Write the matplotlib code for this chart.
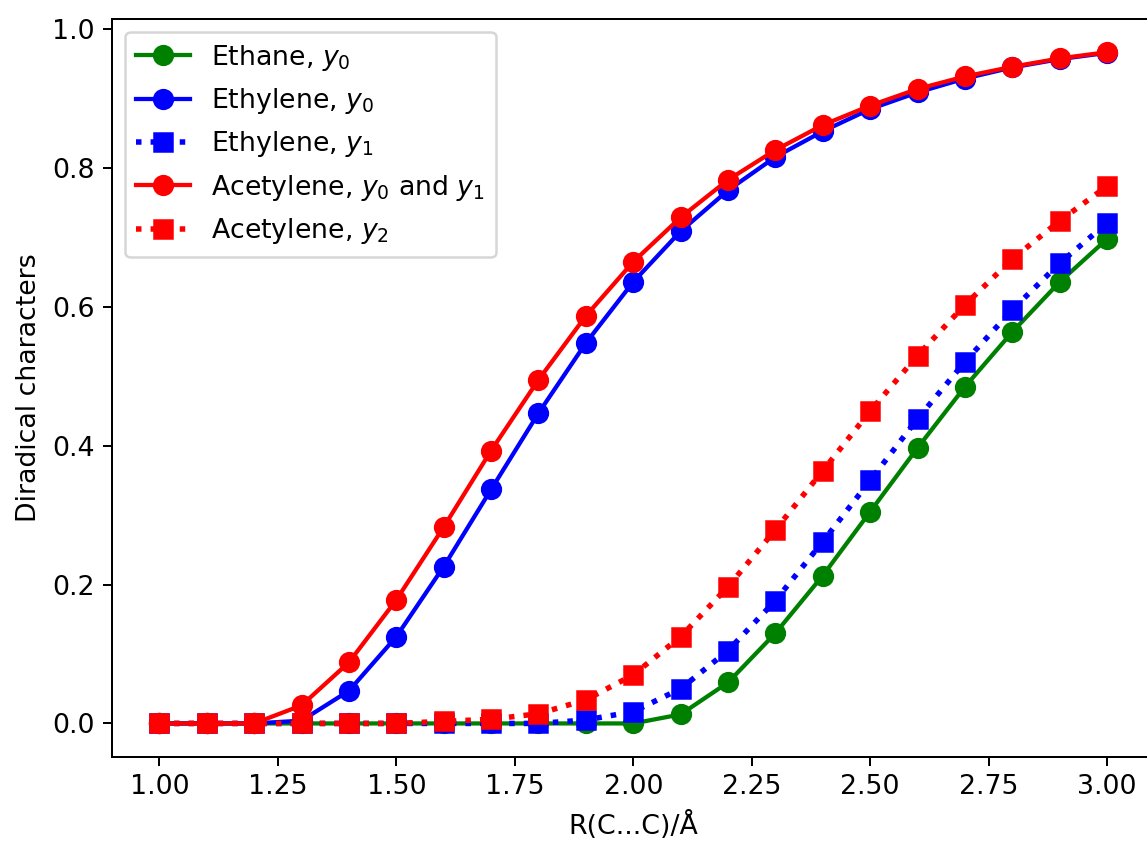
import numpy as np
import matplotlib
matplotlib.use("Agg")
import matplotlib.pyplot as plt

plt.rcParams['font.size'] = 10.7

# bond length grid, R(C...C) in Angstrom
r = [1.0, 1.1, 1.2, 1.3, 1.4, 1.5, 1.6, 1.7, 1.8, 1.9, 2.0,
     2.1, 2.2, 2.3, 2.4, 2.5, 2.6, 2.7, 2.8, 2.9, 3.0]

ethane_y0 = [0.0, 0.0, 0.0, 0.0, 0.0, 0.0, 0.0, 0.0, 0.0, 0.0, 0.0,
             0.013, 0.059, 0.130, 0.213, 0.305, 0.397, 0.485, 0.564, 0.636, 0.698]
ethylene_y0 = [0.0, 0.0, 0.0, 0.004, 0.047, 0.125, 0.226, 0.337, 0.447, 0.548, 0.636,
               0.709, 0.768, 0.816, 0.853, 0.885, 0.909, 0.929, 0.945, 0.957, 0.966]
ethylene_y1 = [0.0, 0.0, 0.0, 0.0, 0.0, 0.0, 0.0, 0.0, 0.0, 0.005, 0.017,
               0.050, 0.105, 0.177, 0.262, 0.350, 0.439, 0.521, 0.596, 0.663, 0.721]
acetylene_y01 = [0.0, 0.0, 0.0, 0.026, 0.088, 0.178, 0.283, 0.393, 0.495, 0.587, 0.665,
                 0.729, 0.783, 0.826, 0.862, 0.890, 0.914, 0.932, 0.946, 0.958, 0.967]
acetylene_y2 = [0.0, 0.0, 0.0, 0.0, 0.0, 0.0, 0.003, 0.006, 0.014, 0.034, 0.070,
                0.125, 0.197, 0.279, 0.364, 0.450, 0.530, 0.603, 0.669, 0.724, 0.774]

fig = plt.figure(figsize=(1147/180, 843/180), dpi=180)
ax = fig.add_axes([112/1147, 86/843, (1154.5-112)/1147, (757-18.6)/843])

ax.plot(r, ethane_y0, 'o-', color='green', ms=7.5, lw=1.7, label='Ethane, $y_0$')
ax.plot(r, ethylene_y0, 'o-', color='blue', ms=7.5, lw=1.7, label='Ethylene, $y_0$')
ax.plot(r, ethylene_y1, 's:', color='blue', ms=7.5, lw=2.2, label='Ethylene, $y_1$')
ax.plot(r, acetylene_y01, 'o-', color='red', ms=7.5, lw=1.7, label='Acetylene, $y_0$ and $y_1$')
ax.plot(r, acetylene_y2, 's:', color='red', ms=7.5, lw=2.2, label='Acetylene, $y_2$')

ax.set_xticks([1.0, 1.25, 1.5, 1.75, 2.0, 2.25, 2.5, 2.75, 3.0])
ax.set_xlabel('R(C...C)/Å')
ax.set_ylabel('Diradical characters')
ax.legend(loc='upper left')

fig.savefig('out.png', dpi=180)
